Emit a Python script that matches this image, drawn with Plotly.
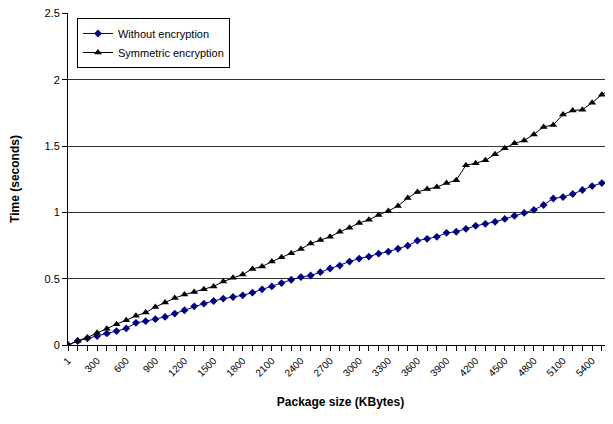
import plotly.graph_objects as go

# Package size categories (KBytes)
categories = [1] + [100 * k for k in range(1, 57)]

# Time (seconds)
without_encryption = [
    0.0, 0.03, 0.05, 0.067, 0.087, 0.105, 0.125, 0.167, 0.18, 0.195,
    0.212, 0.237, 0.262, 0.292, 0.312, 0.332, 0.35, 0.362, 0.375, 0.395,
    0.42, 0.442, 0.467, 0.492, 0.512, 0.524, 0.549, 0.577, 0.599, 0.629,
    0.652, 0.667, 0.689, 0.704, 0.726, 0.749, 0.787, 0.801, 0.816, 0.846,
    0.854, 0.876, 0.899, 0.914, 0.929, 0.951, 0.974, 0.996, 1.019, 1.056,
    1.105, 1.116, 1.139, 1.169, 1.199, 1.221, 1.236,
]
symmetric_encryption = [
    0.0, 0.032, 0.057, 0.092, 0.122, 0.157, 0.187, 0.22, 0.245, 0.287,
    0.32, 0.354, 0.38, 0.40, 0.42, 0.442, 0.479, 0.507, 0.532, 0.574,
    0.592, 0.629, 0.662, 0.692, 0.724, 0.766, 0.791, 0.816, 0.854, 0.884,
    0.921, 0.944, 0.981, 1.011, 1.049, 1.109, 1.154, 1.176, 1.191, 1.221,
    1.243, 1.356, 1.371, 1.393, 1.438, 1.483, 1.521, 1.543, 1.588, 1.645,
    1.660, 1.738, 1.768, 1.775, 1.828, 1.888, 1.935,
]
y_ticks = [0, 0.5, 1, 1.5, 2, 2.5]

labels = [str(c) for c in categories]
idx = list(range(len(categories)))
tick_idx = idx[::3]
tick_text = [labels[i] for i in tick_idx]

fig = go.Figure()
fig.add_trace(go.Scatter(
    x=idx, y=without_encryption, name="Without encryption",
    mode="lines+markers",
    line=dict(color="#000080", width=1),
    marker=dict(symbol="diamond", size=6, color="#000080"),
))
fig.add_trace(go.Scatter(
    x=idx, y=symmetric_encryption, name="Symmetric encryption",
    mode="lines+markers",
    line=dict(color="#000000", width=1),
    marker=dict(symbol="triangle-up", size=7, color="#000000"),
))

fig.update_layout(
    width=613, height=424,
    margin=dict(l=60, r=8, t=5, b=87),
    paper_bgcolor="white", plot_bgcolor="white",
    font=dict(family="Liberation Sans, Arial, sans-serif", size=11, color="black"),
    showlegend=True,
    legend=dict(
        x=0.0165, y=0.985, xanchor="left", yanchor="top",
        bordercolor="black", borderwidth=1, bgcolor="white",
        font=dict(size=11), tracegroupgap=0, itemwidth=30,
    ),
)
fig.update_xaxes(
    automargin=False,
    range=[0, 56.15],
    tickmode="array", tickvals=tick_idx, ticktext=tick_text,
    tickangle=-45, tickfont=dict(size=10),
    ticks="outside", ticklen=5, tickcolor="black",
    minor=dict(dtick=1, tick0=0, ticks="outside", ticklen=5, tickcolor="black"),
    showline=True, linecolor="black", linewidth=1,
    showgrid=False, zeroline=False,
    title=dict(text="<b>Package size (KBytes)</b>", font=dict(size=12), standoff=19),
)
fig.update_yaxes(
    automargin=False,
    range=[0, 2.504], tickmode="array", tickvals=y_ticks,
    ticktext=[f"{v:g}" for v in y_ticks],
    ticklabeloverflow="allow",
    ticks="outside", ticklen=5, tickcolor="black",
    showline=True, linecolor="black", linewidth=1,
    showgrid=True, gridcolor="#333333", gridwidth=1,
    zeroline=False,
    title=dict(text="<b>Time (seconds)</b>", font=dict(size=12), standoff=25),
)

fig.write_html("out.html")
